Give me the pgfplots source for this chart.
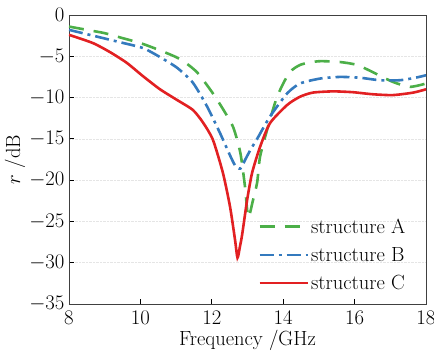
\documentclass[border=0pt]{standalone}
\usepackage[no-math]{fontspec}
\usepackage{pgfplots}
\pgfplotsset{compat=1.18}
\definecolor{cA}{RGB}{76,175,72}
\definecolor{cB}{RGB}{52,122,190}
\definecolor{cC}{RGB}{226,32,34}
\begin{document}
\begin{tikzpicture}
\begin{axis}[
  scale only axis, width=357pt, height=289pt,
  xmin=8, xmax=18, ymin=-35, ymax=0,
  xtick={8,10,...,18}, ytick={-35,-30,...,0},
  tick align=inside, major tick length=5pt,
  xtick pos=left, ytick pos=left,
  axis line style={black!75, line width=0.9pt},
  tick style={black, line width=0.8pt},
  ymajorgrids, grid style={densely dotted, black!10, line width=0.5pt},
  tick label style={font=\fontsize{20.74}{24}\selectfont},
  label style={font=\fontsize{20.5}{24}\selectfont},
  xlabel={Frequency /GHz}, ylabel={$r$ /dB},
  xlabel style={at={(axis description cs:0.5,-0.125)}, anchor=center},
  ylabel style={at={(axis description cs:-0.151,0.5)}, anchor=center},
  xticklabel style={yshift=-4pt},
  yticklabel style={xshift=-1pt},
  legend style={at={(axis cs:13.3,-24.4)}, anchor=north west, draw=none, fill=none,
    font=\fontsize{20.5}{24}\selectfont, row sep=8.5pt, inner sep=0pt},
  legend cell align=left,
  legend image code/.code={\draw[#1] (0pt,0pt) -- (48pt,0pt);},
]
\addplot[cA, line width=2.6pt, dash pattern=on 15pt off 10pt, smooth, tension=0.4] coordinates {
(8,-1.4) (8.5,-1.8) (9,-2.2) (9.5,-2.8) (10,-3.4) (10.5,-4.2) (11,-5.1) (11.3,-5.9)
(11.6,-7.0) (12.0,-9.3) (12.3,-11.3) (12.6,-13.6) (12.8,-16.7) (12.93,-20.8) (13.02,-24.5)
(13.15,-22.5) (13.27,-20.3) (13.35,-17.2) (13.55,-13.9) (13.83,-9.9) (14.17,-7.0) (14.5,-6.0)
(15.0,-5.6) (15.6,-5.7) (16.07,-6.05) (16.5,-6.9) (17.07,-8.1) (17.55,-8.7) (18,-8.3)};
\addlegendentry{structure A}
\addplot[cB, line width=2.6pt, dash pattern=on 14pt off 5pt on 3pt off 5pt, smooth, tension=0.4] coordinates {
(8,-1.8) (8.67,-2.5) (9.43,-3.3) (10.07,-4.0) (10.55,-5.1) (11.03,-6.4) (11.47,-8.2)
(11.87,-11.1) (12.23,-14.3) (12.5,-16.9) (12.65,-18.2) (12.8,-18.6) (12.95,-17.4)
(13.1,-16.2) (13.27,-15.0) (13.63,-12.3) (14.11,-9.5) (14.47,-8.3) (15.03,-7.7)
(15.59,-7.5) (16.15,-7.6) (16.71,-7.9) (17.27,-7.9) (17.7,-7.6) (18,-7.3)};
\addlegendentry{structure B}
\addplot[cC, line width=2.6pt, smooth, tension=0.4] coordinates {
(8,-2.4) (8.67,-3.4) (9.15,-4.5) (9.62,-5.8) (10.07,-7.4) (10.55,-9.0) (11.03,-10.3)
(11.47,-11.5) (11.75,-13.0) (12.03,-15.1) (12.31,-19.1) (12.51,-23.2) (12.65,-27.2)
(12.72,-29.4) (12.79,-28.0) (12.85,-26.6) (12.99,-22.4) (13.13,-19.1) (13.35,-16.0)
(13.63,-13.1) (14.11,-10.9) (14.47,-9.9) (14.83,-9.4) (15.39,-9.25) (15.95,-9.35)
(16.51,-9.6) (17.07,-9.7) (17.64,-9.4) (18,-9.0)};
\addlegendentry{structure C}
\end{axis}
\pgfresetboundingbox
\path (-69pt,-49pt) rectangle (365pt,304pt);
\end{tikzpicture}
\end{document}
